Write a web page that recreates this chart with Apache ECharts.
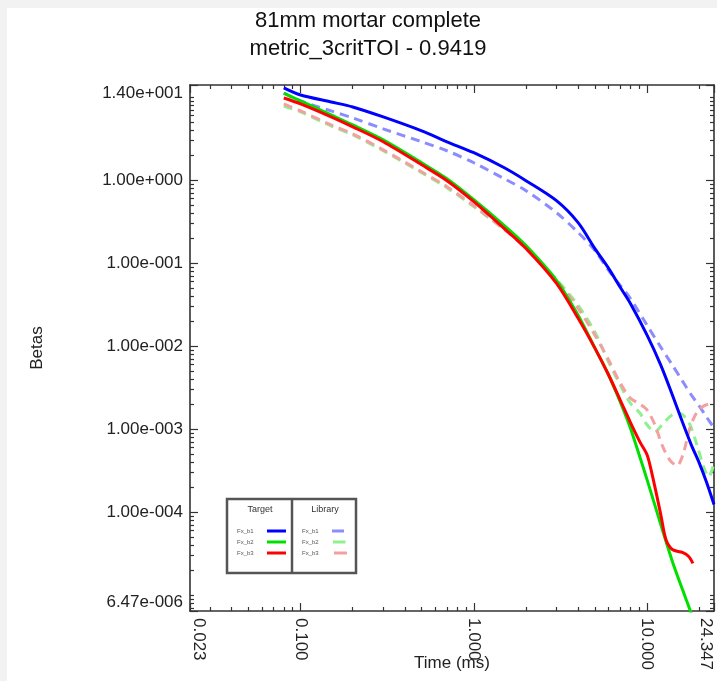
<!DOCTYPE html>
<html>
<head>
<meta charset="utf-8">
<script src="https://cdn.jsdelivr.net/npm/echarts@6/dist/echarts.min.js"></script>
<style>
html,body{margin:0;padding:0;background:#fff;}
#chart{width:717px;height:681px;}
</style>
</head>
<body>
<div id="chart"></div>
<script>
// ---------- data ----------
const xTickValues = [0.023, 0.1, 1, 10, 24.347];
const xTickLabels = ['0.023', '0.100', '1.000', '10.000', '24.347'];
const yTickValues = [6.47e-6, 1e-4, 1e-3, 1e-2, 1e-1, 1, 14];
const yTickLabels = ['6.47e-006', '1.00e-004', '1.00e-003', '1.00e-002', '1.00e-001', '1.00e+000', '1.40e+001'];

const timeHead = [0.08, 0.1, 0.15, 0.2, 0.3, 0.5, 0.7, 1, 1.5, 2, 3, 4, 5, 6, 7, 8];

// Target (solid)
const targetB1Head = [12.9, 10.6, 8.75, 7.62, 5.78, 3.93, 2.90, 2.14, 1.41, 0.986, 0.566, 0.308, 0.150, 0.0865, 0.0512, 0.0329];
const targetB1TailTime = [10, 12, 14, 16, 18, 20, 22, 24.347];
const targetB1Tail = [0.0136, 0.00593, 0.00259, 0.00122, 0.000649, 0.000394, 0.000233, 0.000124];

const targetB2Head = [11.2, 8.99, 6.11, 4.63, 3.06, 1.62, 1.04, 0.582, 0.284, 0.163, 0.0621, 0.0236, 0.00948, 0.00450, 0.00213, 0.00104];
const targetB2TailTime = [10, 12, 14, 16, 18];
const targetB2Tail = [0.000247, 7.11e-5, 2.56e-5, 1.18e-5, 6.07e-6];

const targetB3Head = [9.77, 8.28, 5.78, 4.39, 2.90, 1.53, 0.986, 0.551, 0.261, 0.150, 0.0571, 0.0217, 0.00948, 0.00450, 0.00225, 0.00122];
const targetB3TailTime = [9.09, 10, 10.8, 12, 12.85, 14, 16, 17.4, 18.4];
const targetB3Tail = [0.000705, 0.000492, 0.000261, 9.38e-5, 4.70e-5, 3.56e-5, 3.28e-5, 2.94e-5, 2.42e-5];

// Library (dashed)
const libraryB1Head = [11.2, 8.99, 6.82, 5.62, 4.15, 2.90, 2.26, 1.62, 1.04, 0.747, 0.406, 0.234, 0.142, 0.0818, 0.0541, 0.0378];
const libraryB1TailTime = [10, 12, 14, 16, 18, 20, 22, 24.347];
const libraryB1Tail = [0.0179, 0.00975, 0.00593, 0.00381, 0.00259, 0.00191, 0.00141, 0.00104];

const libraryB2Head = [7.83, 6.64, 4.51, 3.52, 2.26, 1.23, 0.812, 0.480, 0.254, 0.155, 0.0638, 0.0311, 0.0148, 0.00644, 0.00341, 0.00207];
const libraryB2TailTime = [9.09, 10, 11.1, 12.2, 13.5, 14.9, 16.1, 17.7, 19.4, 21.3, 22.7, 24.347];
const libraryB2Tail = [0.00157, 0.00113, 0.000929, 0.00113, 0.00141, 0.00157, 0.00149, 0.00113, 0.000649, 0.000344, 0.000268, 0.000394];

const libraryB3Head = [8.28, 6.82, 4.63, 3.61, 2.32, 1.26, 0.834, 0.493, 0.254, 0.150, 0.0621, 0.0286, 0.0136, 0.00681, 0.00361, 0.00238];
const libraryB3TailTime = [9.09, 10, 11.1, 12.2, 13.5, 14.9, 16.1, 17.7, 19.4, 21.3, 24.347];
const libraryB3Tail = [0.00201, 0.00171, 0.00113, 0.000649, 0.000429, 0.000363, 0.000492, 0.00104, 0.00161, 0.00191, 0.00213];

const legendNames = ['Fx_b1', 'Fx_b2', 'Fx_b3'];
const targetColors = ['#0000ff', '#00e000', '#ff0000'];
const libraryColors = ['#8c8cff', '#8ef08e', '#f5a0a0'];

// ---------- helpers ----------
function pairs(headT, headV, tailT, tailV) {
  const out = [];
  headT.forEach((t, i) => out.push([t, headV[i]]));
  tailT.forEach((t, i) => out.push([t, tailV[i]]));
  return out;
}
function minorTicks(min, max, majors) {
  const out = [];
  for (let e = -7; e <= 2; e++) {
    for (let k = 1; k <= 9; k++) {
      const v = k * Math.pow(10, e);
      if (v > min * 1.0001 && v < max * 0.9999 &&
          !majors.some(m => Math.abs(Math.log10(m) - Math.log10(v)) < 1e-6)) out.push(v);
    }
  }
  return out;
}
function lookup(values, labels) {
  return function (v) {
    for (let i = 0; i < values.length; i++) {
      if (Math.abs(Math.log10(values[i]) - Math.log10(v)) < 1e-4) return labels[i];
    }
    return '';
  };
}

const xMin = xTickValues[0], xMax = xTickValues[xTickValues.length - 1];
const yMin = yTickValues[0], yMax = yTickValues[yTickValues.length - 1];
const xMinor = minorTicks(xMin, xMax, xTickValues);
const yMinor = minorTicks(yMin, yMax, yTickValues);

const FONT = 'Liberation Sans, Arial, sans-serif';
const AX = '#333';

function xAxisDef(pos, major, withLabels) {
  return {
    type: 'log', position: pos, min: xMin, max: xMax,
    axisLine: { show: major, onZero: false, lineStyle: { color: AX, width: 1.6 } },
    axisTick: { show: true, inside: true, length: major ? 8 : 4,
      customValues: major ? xTickValues : xMinor, lineStyle: { color: AX, width: 1.2 } },
    axisLabel: withLabels ? {
      show: true, customValues: xTickValues, rotate: -90, margin: 7,
      formatter: lookup(xTickValues, xTickLabels),
      color: '#222', fontSize: 17, fontFamily: FONT,
      verticalAlignMinLabel: 'bottom', verticalAlignMaxLabel: 'top'
    } : { show: false },
    splitLine: { show: false },
    name: withLabels ? 'Time (ms)' : '', nameLocation: 'middle', nameGap: 44, nameMoveOverlap: false,
    nameTextStyle: { color: '#222', fontSize: 17, fontFamily: FONT }
  };
}
function yAxisDef(pos, major, withLabels) {
  return {
    type: 'log', position: pos, min: yMin, max: yMax,
    axisLine: { show: major, onZero: false, lineStyle: { color: AX, width: 1.6 } },
    axisTick: { show: true, inside: true, length: major ? 8 : 4,
      customValues: major ? yTickValues : yMinor, lineStyle: { color: AX, width: 1.2 } },
    axisLabel: withLabels ? {
      show: true, customValues: yTickValues, margin: 7,
      formatter: lookup(yTickValues, yTickLabels),
      color: '#222', fontSize: 17, fontFamily: FONT,
      verticalAlignMinLabel: 'bottom', verticalAlignMaxLabel: 'top'
    } : { show: false },
    splitLine: { show: false },
    name: withLabels ? 'Betas' : '', nameLocation: 'middle', nameGap: 144, nameRotate: 90, nameMoveOverlap: false,
    nameTextStyle: { color: '#222', fontSize: 17, fontFamily: FONT }
  };
}

function lineSeries(name, data, color, dashed) {
  return {
    type: 'line', name: name, data: data, xAxisIndex: 0, yAxisIndex: 0,
    showSymbol: false, smooth: 0.3, clip: true, silent: true,
    lineStyle: { color: color, width: 3, type: dashed ? [9, 6] : 'solid' },
    z: dashed ? 2 : 3
  };
}

const series = [
  lineSeries('Library Fx_b1', pairs(timeHead, libraryB1Head, libraryB1TailTime, libraryB1Tail), libraryColors[0], true),
  lineSeries('Library Fx_b2', pairs(timeHead, libraryB2Head, libraryB2TailTime, libraryB2Tail), libraryColors[1], true),
  lineSeries('Library Fx_b3', pairs(timeHead, libraryB3Head, libraryB3TailTime, libraryB3Tail), libraryColors[2], true),
  lineSeries('Target Fx_b1', pairs(timeHead, targetB1Head, targetB1TailTime, targetB1Tail), targetColors[0], false),
  lineSeries('Target Fx_b2', pairs(timeHead, targetB2Head, targetB2TailTime, targetB2Tail), targetColors[1], false),
  lineSeries('Target Fx_b3', pairs(timeHead, targetB3Head, targetB3TailTime, targetB3Tail), targetColors[2], false)
];

// ---------- legend box (graphic) ----------
const legendEls = [];
const box = { x: 227, y: 499, w: 129, h: 74, div: 292 };
legendEls.push({ type: 'rect', shape: { x: box.x, y: box.y, width: box.w, height: box.h },
  style: { fill: '#fff', stroke: '#555', lineWidth: 2.5 }, z: 10 });
legendEls.push({ type: 'line', shape: { x1: box.div, y1: box.y, x2: box.div, y2: box.y + box.h },
  style: { stroke: '#555', lineWidth: 2.5 }, z: 10 });
legendEls.push({ type: 'text', x: 260, y: 510, z: 11,
  style: { text: 'Target', fill: '#333', font: '9px ' + FONT, align: 'center', verticalAlign: 'middle' } });
legendEls.push({ type: 'text', x: 325, y: 510, z: 11,
  style: { text: 'Library', fill: '#333', font: '9px ' + FONT, align: 'center', verticalAlign: 'middle' } });
legendNames.forEach((nm, i) => {
  const yy = 531 + i * 11;
  legendEls.push({ type: 'text', x: 237, y: yy, z: 11,
    style: { text: nm, fill: '#555', font: '6px ' + FONT, align: 'left', verticalAlign: 'middle' } });
  legendEls.push({ type: 'line', shape: { x1: 267, y1: yy, x2: 286, y2: yy }, z: 11,
    style: { stroke: targetColors[i], lineWidth: 3 } });
  legendEls.push({ type: 'text', x: 302, y: yy, z: 11,
    style: { text: nm, fill: '#555', font: '6px ' + FONT, align: 'left', verticalAlign: 'middle' } });
  legendEls.push({ type: 'line', shape: { x1: 332 + i, y1: yy, x2: 344 + i * 1.5, y2: yy }, z: 11,
    style: { stroke: libraryColors[i], lineWidth: 3 } });
});

const titleEls = [
  { type: 'text', x: 368, y: 21, z: 11,
    style: { text: '81mm mortar complete', fill: '#111', font: '22px ' + FONT, align: 'center', verticalAlign: 'middle' } },
  { type: 'text', x: 368, y: 49, z: 11,
    style: { text: 'metric_3critTOI - 0.9419', fill: '#111', font: '22px ' + FONT, align: 'center', verticalAlign: 'middle' } }
];

const chart = echarts.init(document.getElementById('chart'), null, { renderer: 'canvas' });
chart.setOption({
  backgroundColor: '#f2f2f2',
  animation: false,
  grid: { left: 190, right: 3, top: 85, bottom: 70, containLabel: false, outerBoundsMode: 'none',
    show: true, backgroundColor: '#fff', borderWidth: 0 },
  xAxis: [xAxisDef('bottom', true, true), xAxisDef('bottom', false, false),
          xAxisDef('top', true, false), xAxisDef('top', false, false)],
  yAxis: [yAxisDef('left', true, true), yAxisDef('left', false, false),
          yAxisDef('right', true, false), yAxisDef('right', false, false)],
  graphic: [
    { type: 'rect', shape: { x: 7, y: 8, width: 717, height: 681 }, style: { fill: '#fff' }, z: -100, silent: true }
  ].concat(titleEls, legendEls),
  series: series
});
</script>
</body>
</html>
